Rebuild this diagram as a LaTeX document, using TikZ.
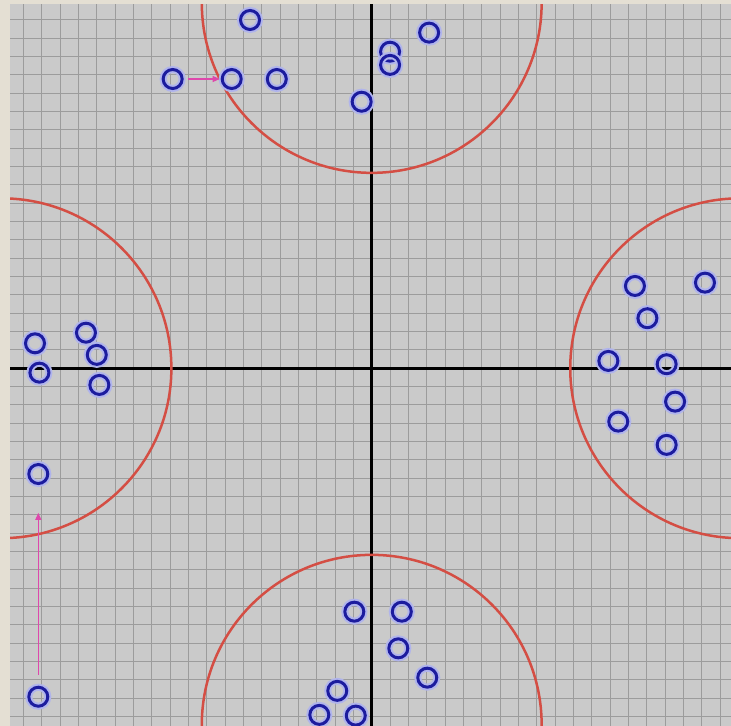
\documentclass[tikz,border=0pt]{standalone}
\usepackage{xcolor}
\usepackage{tikz}
\usetikzlibrary{arrows.meta}

\definecolor{frame}{RGB}{228,223,211}
\definecolor{paper}{RGB}{202,202,202}
\definecolor{gridgray}{RGB}{156,156,156}
\definecolor{ringred}{RGB}{212,78,68}
\definecolor{dotblue}{RGB}{28,28,158}
\definecolor{dotglow}{RGB}{176,180,236}
\definecolor{moveline}{RGB}{222,72,172}

\begin{document}
\begin{tikzpicture}[
  x=18.33pt, y=18.33pt,
  sample/.style={circle, draw=dotblue, line width=3pt, minimum size=19pt, inner sep=0pt,
    preaction={draw=dotglow, line width=7pt}},
  ring/.style={draw=ringred, line width=2.5pt},
  move/.style={draw=moveline, line width=1.2pt, -{Triangle[length=7pt,width=6pt]}},
]

\useasboundingbox (-20.28,-19.51) rectangle (19.60,20.09);
\fill[frame] (-20.28,-19.51) rectangle (19.60,20.09);

\begin{scope}
\clip (-19.73,-19.51) rectangle (19.60,19.87);
\fill[paper] (-19.73,-19.51) rectangle (19.60,19.87);
\draw[gridgray, line width=1pt, step=1] (-21,-21) grid (21,21);
\draw[black, line width=3pt] (-21,0) -- (21,0);
\draw[black, line width=3pt] (0,-21) -- (0,21);

% the four target rings
\draw[ring] (0,19.93) circle (9.27);
\draw[ring] (0,-19.45) circle (9.27);
\draw[ring] (-20.2,0) circle (9.27);
\draw[ring] (20.1,0) circle (9.27);
\end{scope}

% top group
\node[sample] (t1) at (-6.64,19.00) {};
\node[sample] (t2) at (-10.86,15.78) {};
\node[sample] (t3) at (-7.64,15.78) {};
\node[sample] (t4) at (-5.18,15.78) {};
\node[sample] (t5) at (1.00,17.27) {};
\node[sample] (t6) at (1.00,16.55) {};
\node[sample] (t7) at (3.13,18.31) {};
\node[sample] (t8) at (-0.55,14.54) {};

% left group
\node[sample] (l1) at (-18.37,1.36) {};
\node[sample] (l2) at (-18.13,-0.24) {};
\node[sample] (l3) at (-15.59,1.94) {};
\node[sample] (l4) at (-15.00,0.73) {};
\node[sample] (l5) at (-14.86,-0.91) {};
\node[sample] (l6) at (-18.19,-5.77) {};
\node[sample] (l7) at (-18.19,-17.92) {};

% right group
\node[sample] (r1) at (14.36,4.49) {};
\node[sample] (r2) at (18.18,4.67) {};
\node[sample] (r3) at (15.04,2.73) {};
\node[sample] (r4) at (12.91,0.40) {};
\node[sample] (r5) at (16.09,0.22) {};
\node[sample] (r6) at (16.55,-1.82) {};
\node[sample] (r7) at (13.45,-2.91) {};
\node[sample] (r8) at (16.09,-4.18) {};

% bottom group
\node[sample] (b1) at (-0.95,-13.28) {};
\node[sample] (b2) at (1.64,-13.28) {};
\node[sample] (b3) at (1.45,-15.28) {};
\node[sample] (b4) at (3.03,-16.88) {};
\node[sample] (b5) at (-1.88,-17.60) {};
\node[sample] (b6) at (-2.86,-18.91) {};
\node[sample] (b7) at (-0.87,-18.95) {};

% moves
\coordinate (lift) at (-18.19,-7.89);
\draw[move, shorten <=4.5pt, shorten >=1pt] (t2) -- (t3);
\draw[move, shorten <=11pt] (l7) -- (lift);

\end{tikzpicture}
\end{document}
